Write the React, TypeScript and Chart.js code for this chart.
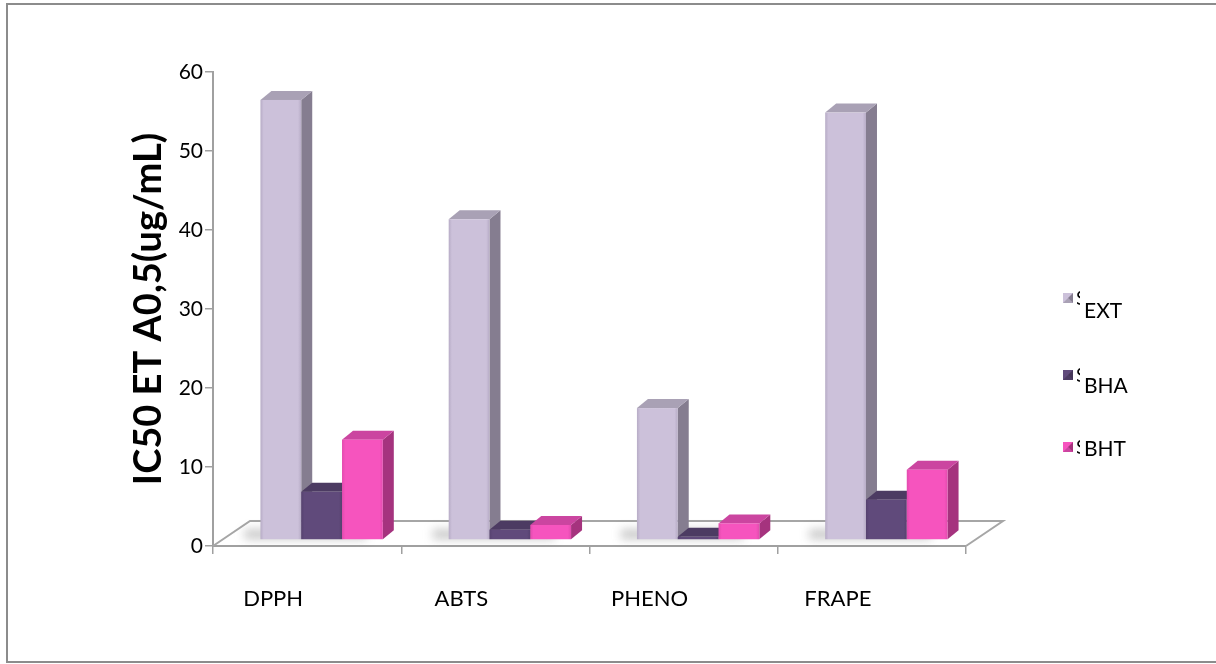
import React, { useEffect, useRef } from "react";
import { Chart, registerables } from "chart.js";

Chart.register(...registerables);

// Categories and series values (IC50 / A0,5 in ug/mL)
const categories = ["DPPH", "ABTS", "PHENO", "FRAPE"];
const seriesNames = ["EXT", "BHA", "BHT"];
const extValues = [55.7, 40.6, 16.7, 54.1];
const bhaValues = [6.1, 1.3, 0.4, 5.1];
const bhtValues = [12.7, 1.9, 2.1, 8.9];
const yTickValues = [0, 10, 20, 30, 40, 50, 60];
const axisTitle = "IC50 ET A0,5(ug/mL)";
const hiddenSeriesPrefix = "Series1";

// Face colours for each series: front, right side, top, front edge
const palettes = [
  { front: "#CCC1DA", side: "#857D90", top: "#A9A1B5", edge: "#B7ACC6" },
  { front: "#604A7B", side: "#453558", top: "#4C3B62", edge: "#564270" },
  { front: "#F654BE", side: "#A5337E", top: "#CB45A0", edge: "#E24BAE" },
];

const FONT = "Lato, 'Open Sans', sans-serif";

// 3-D geometry
const FLOOR_DX = 37;
const FLOOR_DY = -25;
const BAR_SHIFT_X = 14.5;
const BAR_SHIFT_Y = -6;
const DEPTH_X = 11;
const DEPTH_Y = -9;

// Legend placement
const LEGEND_MARKER_X = 1063;
const LEGEND_MARKER_Y = [298, 375, 447];
const LEGEND_CLIP_X = 1077;
const LEGEND_TEXT_X = 1084;
const LEGEND_TEXT_Y = [311, 386, 449];

function barRect(el: any) {
  const p = el.getProps(["x", "y", "base", "width"], true);
  return {
    l: p.x - p.width / 2 + BAR_SHIFT_X,
    r: p.x + p.width / 2 + BAR_SHIFT_X,
    t: p.y + BAR_SHIFT_Y,
    b: p.base + BAR_SHIFT_Y,
  };
}

function drawBar3d(ctx: CanvasRenderingContext2D, l: number, r: number, t: number, b: number, pal: any) {
  // right side face
  ctx.beginPath();
  ctx.moveTo(r, b);
  ctx.lineTo(r + DEPTH_X, b + DEPTH_Y);
  ctx.lineTo(r + DEPTH_X, t + DEPTH_Y);
  ctx.lineTo(r, t);
  ctx.closePath();
  ctx.fillStyle = pal.side;
  ctx.fill();
  // top face
  ctx.beginPath();
  ctx.moveTo(l, t);
  ctx.lineTo(l + DEPTH_X, t + DEPTH_Y);
  ctx.lineTo(r + DEPTH_X, t + DEPTH_Y);
  ctx.lineTo(r, t);
  ctx.closePath();
  ctx.fillStyle = pal.top;
  ctx.fill();
  // front face
  const g = ctx.createLinearGradient(l, 0, r, 0);
  g.addColorStop(0, pal.edge);
  g.addColorStop(0.08, pal.front);
  g.addColorStop(0.92, pal.front);
  g.addColorStop(1, pal.edge);
  ctx.fillStyle = g;
  ctx.fillRect(l, t, r - l, b - t);
}

const frame3d = {
  id: "frame3d",
  beforeDraw(chart: any) {
    const { ctx, width, height } = chart;
    ctx.save();
    ctx.fillStyle = "#FFFFFF";
    ctx.fillRect(0, 0, width, height);
    ctx.strokeStyle = "#8C8C8C";
    ctx.lineWidth = 2;
    ctx.strokeRect(7, 4, width + 20, height - 6);
    ctx.restore();
  },
  beforeDatasetsDraw(chart: any) {
    const { ctx, chartArea } = chart;
    const { left, right, bottom } = chartArea;
    ctx.save();
    // floor
    ctx.beginPath();
    ctx.moveTo(left, bottom);
    ctx.lineTo(left + FLOOR_DX, bottom + FLOOR_DY);
    ctx.lineTo(right + FLOOR_DX, bottom + FLOOR_DY);
    ctx.lineTo(right, bottom);
    ctx.strokeStyle = "#A6A6A6";
    ctx.lineWidth = 2;
    ctx.stroke();
    // soft shadows cast on the floor by each group of bars
    ctx.filter = "blur(5px)";
    ctx.fillStyle = "rgba(90,90,90,0.32)";
    categories.forEach((_, i) => {
      const first = barRect(chart.getDatasetMeta(0).data[i]);
      const last = barRect(chart.getDatasetMeta(seriesNames.length - 1).data[i]);
      ctx.fillRect(first.l - 16, first.b - 10, last.r - first.l, 10);
    });
    ctx.restore();
  },
  afterDatasetsDraw(chart: any) {
    const { ctx } = chart;
    ctx.save();
    categories.forEach((_, i) => {
      seriesNames.forEach((__, d) => {
        const { l, r, t, b } = barRect(chart.getDatasetMeta(d).data[i]);
        drawBar3d(ctx, l, r, t, b, palettes[d]);
      });
    });
    ctx.restore();
  },
  afterDraw(chart: any) {
    const { ctx } = chart;
    ctx.save();
    chart.data.datasets.forEach((ds: any, d: number) => {
      const pal = palettes[d];
      const mx = LEGEND_MARKER_X;
      const my = LEGEND_MARKER_Y[d] - 5;
      const s = 10;
      // bevelled square marker
      ctx.fillStyle = pal.front;
      ctx.fillRect(mx, my, s, s);
      ctx.fillStyle = pal.top;
      ctx.beginPath();
      ctx.moveTo(mx, my + s);
      ctx.lineTo(mx + s / 2, my + s / 2);
      ctx.lineTo(mx + s, my + s);
      ctx.closePath();
      ctx.fill();
      ctx.fillStyle = pal.side;
      ctx.beginPath();
      ctx.moveTo(mx + s, my);
      ctx.lineTo(mx + s / 2, my + s / 2);
      ctx.lineTo(mx + s, my + s);
      ctx.closePath();
      ctx.fill();
      // series name, mostly hidden behind the label column
      ctx.save();
      ctx.beginPath();
      ctx.rect(LEGEND_CLIP_X, my - 2, 3, s + 4);
      ctx.clip();
      ctx.fillStyle = "#000";
      ctx.font = `19px ${FONT}`;
      ctx.textBaseline = "middle";
      ctx.textAlign = "left";
      ctx.fillText(hiddenSeriesPrefix, LEGEND_CLIP_X - 1, LEGEND_MARKER_Y[d] + 1);
      ctx.restore();
      // label
      ctx.fillStyle = "#000";
      ctx.font = `21px ${FONT}`;
      ctx.textBaseline = "middle";
      ctx.textAlign = "left";
      ctx.fillText(ds.label, LEGEND_TEXT_X, LEGEND_TEXT_Y[d]);
    });
    ctx.restore();
  },
};

export default function App() {
  const canvasRef = useRef<HTMLCanvasElement>(null);

  useEffect(() => {
    const canvas = canvasRef.current;
    if (!canvas) return;
    const seriesValues = [extValues, bhaValues, bhtValues];
    const chart = new Chart(canvas, {
      type: "bar",
      data: {
        labels: categories,
        datasets: seriesNames.map((name, i) => ({
          label: name,
          data: seriesValues[i],
          backgroundColor: "rgba(0,0,0,0)",
          borderWidth: 0,
          categoryPercentage: 0.65,
          barPercentage: 1,
        })),
      },
      options: {
        responsive: false,
        animation: false,
        devicePixelRatio: 1,
        events: [],
        layout: { padding: { left: 0, top: 72, right: 250, bottom: 0 } },
        plugins: {
          legend: { display: false },
          tooltip: { enabled: false },
        },
        scales: {
          x: {
            type: "category",
            offset: true,
            grid: {
              display: true,
              offset: true,
              drawOnChartArea: false,
              drawTicks: true,
              tickLength: 8,
              color: "#A0A0A0",
              lineWidth: 1.5,
            },
            border: { display: true, color: "#A0A0A0", width: 2 },
            ticks: {
              color: "#000",
              font: { family: FONT, size: 22 },
              padding: 32,
              labelOffset: -34,
              autoSkip: false,
              maxRotation: 0,
            },
            afterFit: (scale: any) => {
              scale.height = 118;
            },
          },
          y: {
            min: 0,
            max: 60,
            afterBuildTicks: (scale: any) => {
              scale.ticks = yTickValues.map((v) => ({ value: v }));
            },
            grid: {
              display: true,
              drawOnChartArea: false,
              drawTicks: true,
              tickLength: 8,
              color: "#A0A0A0",
              lineWidth: 1.5,
            },
            border: { display: true, color: "#A0A0A0", width: 2 },
            ticks: {
              color: "#000",
              font: { family: FONT, size: 21 },
              padding: 2,
            },
            title: {
              display: true,
              text: axisTitle,
              color: "#000",
              font: { family: FONT, size: 38, weight: "bold" },
              padding: { top: 126, bottom: 0 },
            },
            afterFit: (scale: any) => {
              scale.width = 213;
            },
          },
        },
      },
      plugins: [frame3d],
    });
    return () => chart.destroy();
  }, []);

  return (
    <div style={{ position: "absolute", left: 0, top: 0, width: 1216, height: 664, background: "#fff" }}>
      <canvas ref={canvasRef} width={1216} height={664} style={{ display: "block", width: 1216, height: 664 }} />
    </div>
  );
}
